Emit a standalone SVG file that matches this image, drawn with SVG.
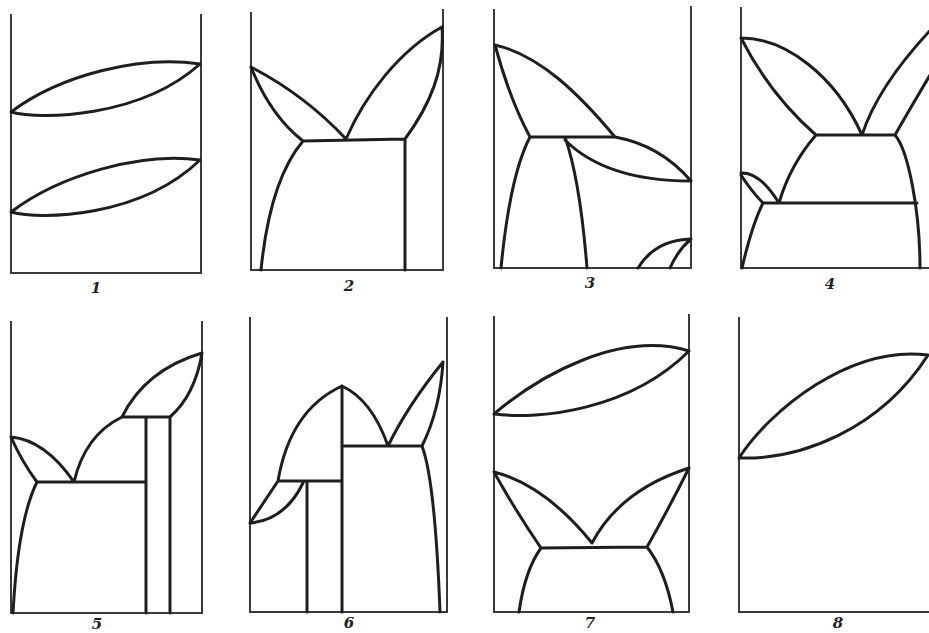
<svg xmlns="http://www.w3.org/2000/svg" width="929" height="633" viewBox="0 0 929 633">
<style>
.ax{fill:none;stroke:#3a3a3a;stroke-width:2;stroke-linecap:square}
.ln{fill:none;stroke:#1e1e1e;stroke-width:3;stroke-linecap:round;stroke-linejoin:round}
.lb{font-family:"DejaVu Serif",serif;font-style:italic;font-weight:bold;font-size:15px;fill:#222;text-anchor:middle}
</style>
<rect width="929" height="633" fill="#ffffff"/>
<g id="panel1">
<path class="ax" d="M11,15 L11,273 L201,273 L201,15"/>
<path class="ln" d="M11,112 C60,75 140,55 200,64 M11,112 C40,120 140,118 200,64"/>
<path class="ln" d="M11,212 C60,175 140,152 200,160 M11,212 C40,220 140,218 200,160"/>
<text class="lb" x="96" y="293">1</text>
</g>
<g id="panel2">
<path class="ax" d="M251,13 L251,270 L443,270 L443,10"/>
<path class="ln" d="M251,67 Q305,95 346,139 M251,67 Q270,115 303,141 M303,141 L405,139 M346,139 C365,95 400,50 442,27 M405,139 C430,105 445,70 442,27 M405,139 L405,270 M303,141 Q270,180 261,270"/>
<text class="lb" x="349" y="291">2</text>
</g>
<g id="panel3">
<path class="ax" d="M494,10 L494,268 L691,268 L691,7"/>
<path class="ln" d="M495,45 C540,55 580,95 615,137 M495,45 Q510,100 530,137 M530,137 L615,137 M615,137 Q660,145 691,181 M565,140 C590,165 630,181 691,181 M565,137 Q580,180 587,268 M530,137 Q510,175 501,268 M638,268 Q655,240 691,239 M670,268 Q678,250 691,239"/>
<text class="lb" x="590" y="288">3</text>
</g>
<g id="panel4">
<path class="ax" d="M741,8 L741,268 L929,268"/>
<path class="ln" d="M741,38 C785,38 835,75 862,135 M741,38 Q770,95 816,135 M816,135 L895,135 M862,135 C875,95 905,55 945,15 M895,135 Q915,100 945,50 M895,135 C908,150 920,210 920,268 M763,203 L917,203 M816,135 Q790,165 779,203 M741,173 Q760,172 779,203 M741,175 Q752,192 763,203 M763,203 Q752,225 742,268"/>
<text class="lb" x="830" y="289">4</text>
</g>
<g id="panel5">
<path class="ax" d="M11,322 L11,613 L202,613 L202,322"/>
<path class="ln" d="M11,437 Q45,440 74,482 M11,437 Q22,462 37,482 M37,482 L146,482 M74,482 Q85,435 122,417 M122,417 L170,417 M122,417 Q145,370 202,353 M170,417 Q195,395 202,353 M146,417 L146,613 M170,417 L170,613 M37,482 Q18,520 13,613"/>
<text class="lb" x="97" y="629">5</text>
</g>
<g id="panel6">
<path class="ax" d="M250,318 L250,612 L447,612 L447,318"/>
<path class="ln" d="M250,523 Q262,505 278,481 M250,523 Q285,520 303,483 M278,481 L342,481 M307,483 L307,612 M342,386 L342,612 M278,481 Q290,410 342,386 M342,386 Q372,400 388,446 M344,446 L422,446 M388,446 Q408,405 443,362 M422,446 Q440,410 443,362 M422,446 Q435,480 440,612"/>
<text class="lb" x="349" y="628">6</text>
</g>
<g id="panel7">
<path class="ax" d="M494,317 L494,612 L689,612 L689,315"/>
<path class="ln" d="M494,414 C540,375 620,330 689,351 M494,414 C540,420 630,410 689,351"/>
<path class="ln" d="M494,472 Q545,485 592,543 M494,472 Q515,510 541,548 M541,548 L647,547 M592,543 Q620,490 689,468 M647,547 Q668,510 689,468 M541,548 Q525,570 519,612 M647,547 Q665,570 673,612"/>
<text class="lb" x="590" y="628">7</text>
</g>
<g id="panel8">
<path class="ax" d="M739,318 L739,612 L929,612"/>
<path class="ln" d="M739,458 C770,410 850,345 928,355 M739,458 C800,460 880,430 928,355"/>
<text class="lb" x="838" y="628">8</text>
</g>
</svg>
